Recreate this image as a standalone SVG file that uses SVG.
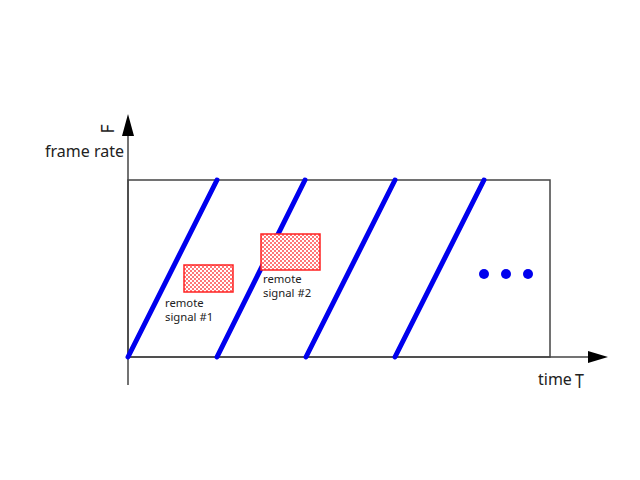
<svg xmlns="http://www.w3.org/2000/svg" width="640" height="480" viewBox="0 0 640 480">
<style>
.ax{stroke:#444;stroke-width:1.5;fill:none}
.blue{stroke:#0000ee;stroke-width:5;stroke-linecap:round}
.lbl{font-family:"Noto Sans","Open Sans",sans-serif;fill:#222}
.small{font-size:11.3px}
.big{font-size:16px}
.sig{fill:url(#chk);stroke:#ff2222;stroke-width:1.5}
</style>
<defs>
<pattern id="chk" width="4" height="4" patternUnits="userSpaceOnUse">
<rect width="4" height="4" fill="#fff"/>
<rect width="2" height="2" fill="#f77"/>
<rect x="2" y="2" width="2" height="2" fill="#f77"/>
</pattern>
</defs>
<rect width="640" height="480" fill="#fff"/>
<g id="axes">
<line class="ax" x1="128" y1="385" x2="128" y2="130"/>
<polygon points="128,114 122,136 134,136" fill="#000"/>
<line class="ax" x1="128" y1="357" x2="592" y2="357"/>
<polygon points="608,357 588,351 588,363" fill="#000"/>
</g>
<g id="frame">
<rect x="128" y="180" width="422" height="177" class="ax"/>
</g>
<g id="connectors">
<line class="blue" x1="128" y1="357" x2="217" y2="180"/>
<line class="blue" x1="217" y1="357" x2="305" y2="180"/>
<line class="blue" x1="306" y1="357" x2="395" y2="180"/>
<line class="blue" x1="395" y1="357" x2="484" y2="180"/>
</g>
<g id="signal1">
<rect class="sig" x="184" y="265" width="49" height="27"/>
<text class="lbl small" x="165" y="307">remote</text>
<text class="lbl small" x="165" y="321">signal #1</text>
</g>
<g id="signal2">
<rect class="sig" x="261" y="234" width="59" height="36"/>
<text class="lbl small" x="263" y="283">remote</text>
<text class="lbl small" x="263" y="297">signal #2</text>
</g>
<g id="dots" fill="#0000ee">
<circle cx="484" cy="274" r="5"/>
<circle cx="506" cy="274" r="5"/>
<circle cx="528" cy="274" r="5"/>
</g>
<g id="ylabel">
<text class="lbl big" x="45" y="157">frame rate</text>
<text class="lbl" transform="translate(113.5,133.5) rotate(-90)" style="font-size:17.5px">F</text>
</g>
<g id="xlabel">
<text class="lbl big" x="538" y="385">time</text>
<text class="lbl" transform="translate(575,388) scale(0.8,1)" style="font-size:20px">T</text>
</g>
</svg>
